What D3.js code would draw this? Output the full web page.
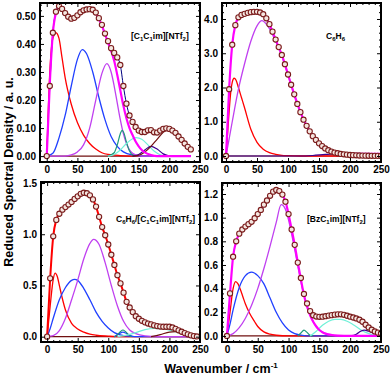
<!DOCTYPE html>
<html>
<head>
<meta charset="utf-8">
<script src="https://cdn.jsdelivr.net/npm/d3@7"></script>
<style>
  body { margin: 0; background: #fff; }
  text { font-family: "Liberation Sans", Arial, sans-serif; font-weight: bold; }
</style>
</head>
<body>
<script>
// measured spectra, one marker every 5 cm-1 starting at 0
var step = 5;
var dataP1 = [0, 0.25, 0.44, 0.515, 0.535, 0.525, 0.51, 0.497, 0.49, 0.493, 0.502, 0.513, 0.52, 0.523, 0.524, 0.522,
  0.512, 0.492, 0.468, 0.437, 0.41, 0.385, 0.368, 0.352, 0.325, 0.25, 0.187, 0.145, 0.122, 0.104, 0.091, 0.086,
  0.086, 0.092, 0.093, 0.085, 0.084, 0.091, 0.097, 0.099, 0.097, 0.091, 0.083, 0.07, 0.058, 0.045, 0.033, 0.024];
var dataP2 = [0, 1.95, 3.25, 3.82, 4.05, 4.12, 4.15, 4.18, 4.2, 4.21, 4.21, 4.19, 4.14, 4.02, 3.85, 3.63, 3.4, 3.18,
  2.95, 2.68, 2.38, 2.08, 1.8, 1.52, 1.28, 1.06, 0.88, 0.72, 0.58, 0.47, 0.37, 0.29, 0.22, 0.17, 0.13, 0.1, 0.08,
  0.06, 0.05, 0.04, 0.03, 0.025, 0.02, 0.015, 0.012, 0.01, 0.008, 0.006, 0.005, 0.004, 0.003];
var dataP3 = [0, 0.57, 0.98, 1.14, 1.2, 1.24, 1.265, 1.29, 1.315, 1.345, 1.37, 1.395, 1.405, 1.4, 1.38, 1.34, 1.27,
  1.17, 1.07, 0.99, 0.9, 0.8, 0.7, 0.6, 0.52, 0.43, 0.34, 0.285, 0.24, 0.2, 0.175, 0.155, 0.14, 0.128, 0.12, 0.11,
  0.103, 0.099, 0.097, 0.097, 0.097, 0.09, 0.077, 0.062, 0.048, 0.035, 0.023, 0.013, 0.006, 0.002];
var dataP4 = [0, 0.36, 0.67, 0.8, 0.865, 0.9, 0.925, 0.945, 0.965, 0.995, 1.03, 1.065, 1.11, 1.145, 1.185, 1.22,
  1.234, 1.225, 1.195, 1.135, 1.03, 0.9, 0.77, 0.62, 0.49, 0.355, 0.275, 0.21, 0.175, 0.164, 0.162, 0.163, 0.167,
  0.172, 0.176, 0.18, 0.183, 0.183, 0.179, 0.171, 0.163, 0.156, 0.148, 0.137, 0.12, 0.095, 0.072, 0.053, 0.038,
  0.028, 0.022];

// fitted curves, [wavenumber, density]
var fitP1 = [[0,0],[5,0.26],[10,0.44],[15,0.51],[20,0.53],[25,0.52],[30,0.505],[35,0.495],[40,0.49],[45,0.492],
  [50,0.5],[55,0.51],[60,0.518],[65,0.522],[70,0.523],[75,0.52],[80,0.51],[85,0.49],[90,0.465],[95,0.435],
  [100,0.405],[105,0.375],[110,0.34],[115,0.29],[120,0.235],[125,0.18],[130,0.135],[135,0.1],[140,0.075],
  [145,0.052],[150,0.035],[155,0.022],[160,0.013],[170,0.004],[180,0],[235,0]];
var redP1 = [[0,0],[5,0.3],[10,0.42],[15,0.44],[20,0.42],[25,0.35],[30,0.28],[40,0.185],[50,0.12],[60,0.075],
  [70,0.045],[80,0.025],[90,0.012],[100,0.006],[120,0.002],[150,0],[235,0]];
var blueP1 = [[0,0],[10,0.01],[20,0.065],[30,0.145],[40,0.25],[50,0.345],[58,0.38],[65,0.365],[75,0.3],[85,0.21],
  [95,0.13],[105,0.07],[115,0.035],[125,0.015],[140,0.004],[160,0],[235,0]];
var violetP1 = [[0,0],[30,0],[40,0.004],[50,0.015],[60,0.04],[70,0.1],[80,0.2],[90,0.295],[98,0.33],[105,0.3],
  [110,0.25],[115,0.19],[120,0.13],[125,0.08],[130,0.045],[140,0.01],[150,0.002],[160,0],[235,0]];
var tealP1 = [[100,0],[110,0.012],[115,0.04],[120,0.08],[123,0.092],[126,0.082],[130,0.05],[135,0.018],[140,0.004],[145,0]];
var cyanP1 = [[100,0],[110,0.006],[120,0.022],[130,0.045],[140,0.062],[146,0.066],[155,0.06],[165,0.04],[175,0.018],[185,0.005],[195,0]];
var purpleP1 = [[140,0],[150,0.006],[160,0.022],[170,0.035],[180,0.025],[190,0.008],[200,0]];
var brownP1 = [[140,0],[150,0.003],[160,0.015],[170,0.035],[180,0.06],[190,0.085],[200,0.095],[210,0.088],
  [220,0.065],[230,0.04],[235,0.03]];

var fitP2 = [[0,0],[5,1.95],[10,3.25],[15,3.82],[20,4.04],[25,4.12],[30,4.15],[35,4.18],[40,4.2],[45,4.21],
  [50,4.21],[55,4.19],[60,4.14],[65,4.02],[70,3.85],[75,3.63],[80,3.4],[90,2.95],[100,2.38],[110,1.8],[120,1.28],
  [130,0.88],[140,0.58],[150,0.37],[160,0.23],[170,0.15],[180,0.1],[190,0.075],[200,0.065],[220,0.06],[250,0.06]];
var redP2 = [[0,0],[3,0.8],[5,1.3],[8,1.93],[10,2.15],[13,2.27],[16,2.22],[20,2.0],[25,1.7],[30,1.4],[40,0.78],
  [50,0.4],[60,0.2],[70,0.1],[80,0.05],[90,0.02],[100,0.01],[120,0],[250,0]];
var violetP2 = [[0,0],[10,1.0],[20,1.95],[30,2.7],[40,3.35],[50,3.8],[58,3.95],[65,3.85],[70,3.72],[80,3.35],
  [90,2.93],[100,2.37],[110,1.79],[120,1.28],[130,0.88],[140,0.58],[150,0.37],[160,0.21],[170,0.11],[180,0.06],
  [190,0.03],[200,0.015],[220,0.003],[250,0]];
var navyP2 = [[0,0],[120,0],[140,0.015],[160,0.045],[175,0.06],[190,0.05],[210,0.02],[230,0.005],[250,0]];

var redP3 = [[0,0],[5,0.3],[10,0.56],[13,0.62],[17,0.58],[20,0.5],[25,0.37],[30,0.26],[40,0.13],[50,0.075],
  [60,0.045],[70,0.025],[80,0.014],[100,0.005],[120,0],[245,0]];
var blueP3 = [[0,0],[5,0.08],[10,0.18],[20,0.36],[30,0.48],[40,0.55],[45,0.56],[50,0.55],[60,0.47],[70,0.36],
  [80,0.24],[90,0.15],[100,0.085],[110,0.04],[120,0.018],[135,0.005],[150,0],[245,0]];
var blue2P3 = [[110,0],[118,0.03],[124,0.045],[130,0.03],[140,0]];
var violetP3 = [[0,0],[10,0.01],[20,0.06],[30,0.18],[40,0.36],[50,0.55],[60,0.76],[70,0.91],[76,0.95],[85,0.9],
  [95,0.72],[105,0.5],[115,0.3],[125,0.15],[135,0.065],[145,0.03],[160,0.008],[180,0],[245,0]];
var tealP3 = [[110,0],[115,0.02],[120,0.05],[124,0.065],[128,0.05],[133,0.02],[138,0]];
var cyanP3 = [[115,0],[130,0.015],[145,0.04],[160,0.068],[175,0.08],[190,0.075],[205,0.055],[220,0.03],[235,0.01],[245,0]];
var brownP3 = [[170,0],[185,0.02],[200,0.045],[210,0.05],[220,0.04],[235,0.015],[245,0.005]];

var fitP4 = [[0,0],[5,0.36],[10,0.67],[15,0.8],[20,0.865],[25,0.9],[30,0.925],[35,0.945],[40,0.965],[45,0.995],
  [50,1.03],[55,1.065],[60,1.11],[65,1.145],[70,1.185],[75,1.22],[80,1.234],[85,1.225],[90,1.195],[95,1.135],
  [100,1.03],[105,0.9],[110,0.77],[115,0.62],[120,0.48],[125,0.345],[130,0.25],[135,0.175],[140,0.12],[145,0.08],
  [150,0.05],[155,0.032],[160,0.02],[170,0.008],[180,0.003],[200,0],[250,0]];
var redP4 = [[0,0],[5,0.2],[10,0.4],[14,0.46],[18,0.44],[22,0.39],[26,0.33],[30,0.27],[37,0.19],[45,0.12],
  [50,0.08],[60,0.035],[70,0.015],[80,0.006],[100,0],[250,0]];
var blueP4 = [[0,0],[5,0.1],[10,0.22],[20,0.41],[30,0.51],[40,0.54],[50,0.51],[60,0.44],[70,0.32],[80,0.2],
  [90,0.11],[100,0.05],[110,0.02],[120,0.008],[135,0],[250,0]];
var violetP4 = [[0,0],[10,0.02],[20,0.07],[30,0.15],[40,0.26],[50,0.4],[60,0.57],[70,0.76],[80,0.96],[88,1.11],
  [95,1.07],[100,0.98],[105,0.86],[110,0.73],[120,0.46],[130,0.25],[140,0.12],[150,0.05],[160,0.02],[170,0.008],
  [180,0],[250,0]];
var tealP4 = [[115,0],[120,0.025],[125,0.05],[130,0.03],[135,0.005],[140,0]];
var cyanP4 = [[135,0],[145,0.04],[155,0.09],[165,0.125],[175,0.14],[185,0.14],[195,0.125],[205,0.095],[215,0.06],
  [225,0.03],[235,0.012],[250,0]];
var purpleP4 = [[200,0],[210,0.015],[217,0.04],[223,0.05],[230,0.04],[240,0.02],[250,0.008]];

// tick labels
var xTicks = [0, 50, 100, 150, 200, 250];
var yTicksP1 = [0, 0.1, 0.2, 0.3, 0.4, 0.5];
var yTicksP2 = [0, 1, 2, 3, 4];
var yTicksP3 = [0, 0.5, 1.0, 1.5];
var yTicksP4 = [0, 0.2, 0.4, 0.6, 0.8, 1.0, 1.2];

var C = {red: "#ff0000", blue: "#2040ff", violet: "#c040f0", teal: "#1a9a7a", cyan: "#70f0d8",
         purple: "#3a0090", brown: "#701010", magenta: "#ff00ff", navy: "#000080"};

function pts(arr) { return arr.map(function(v, i) { return [i * step, v]; }); }

var panels = [
  {box: [40, 3, 200, 162], xd: [-11, 250], yd: [-0.021, 0.546], yt: yTicksP1, ym: 0.02, fmt: ".1f",
   data: dataP1, label: [["[C",0],["1",1],["C",0],["1",1],["im][NTf",0],["2",1],["]",0]], lx: 131, ly: 39,
   lines: [[pts(dataP1), C.navy, 1], [redP1, C.red, 1.3], [blueP1, C.blue, 1.3], [violetP1, C.violet, 1.3],
           [tealP1, C.teal, 1.2], [cyanP1, C.cyan, 1.2], [purpleP1, C.purple, 1.2], [brownP1, C.brown, 1.2],
           [fitP1, C.magenta, 2.2]]},
  {box: [222, 3, 381, 162], xd: [-6.5, 250], yd: [-0.175, 4.467], yt: yTicksP2, ym: 0.2, fmt: "d",
   data: dataP2, label: [["C",0],["6",1],["H",0],["6",1]], lx: 326, ly: 39,
   lines: [[redP2, C.red, 1.3], [violetP2, C.violet, 1.3], [navyP2, C.purple, 1.2], [fitP2, C.magenta, 2.2]]},
  {box: [41, 182, 200, 342], xd: [-10, 250], yd: [-0.052, 1.51], yt: yTicksP3, ym: 0.1, fmt: ".1f",
   data: dataP3, label: [["C",0],["6",1],["H",0],["6",1],["/[C",0],["1",1],["C",0],["1",1],["im][NTf",0],["2",1],["]",0]],
   lx: 116, ly: 222,
   lines: [[redP3, C.red, 1.3], [blueP3, C.blue, 1.3], [blue2P3, C.blue, 1.2], [violetP3, C.violet, 1.3],
           [tealP3, C.teal, 1.2], [cyanP3, C.cyan, 1.2], [brownP3, C.brown, 1.2], [pts(dataP3), C.red, 2]]},
  {box: [222, 183, 381, 342], xd: [-8, 250], yd: [-0.051, 1.293], yt: yTicksP4, ym: 0.04, fmt: ".1f",
   data: dataP4, label: [["[BzC",0],["1",1],["im][NTf",0],["2",1],["]",0]], lx: 307, ly: 222,
   lines: [[redP4, C.red, 1.3], [blueP4, C.blue, 1.3], [violetP4, C.violet, 1.3], [tealP4, C.teal, 1.2],
           [cyanP4, C.cyan, 1.2], [purpleP4, C.purple, 1.2], [fitP4, C.magenta, 2.2]]}
];

var svg = d3.select("body").append("svg")
  .attr("width", 390).attr("height", 377);

panels.forEach(function(p, k) {
  var x = d3.scaleLinear().domain(p.xd).range([p.box[0], p.box[2]]);
  var y = d3.scaleLinear().domain(p.yd).range([p.box[3], p.box[1]]);
  var g = svg.append("g");

  g.append("clipPath").attr("id", "clip" + k)
    .append("rect").attr("x", p.box[0]).attr("y", p.box[1])
    .attr("width", p.box[2] - p.box[0]).attr("height", p.box[3] - p.box[1]);

  var plot = g.append("g").attr("clip-path", "url(#clip" + k + ")");
  var line = d3.line().x(function(d) { return x(d[0]); }).y(function(d) { return y(d[1]); })
    .curve(d3.curveMonotoneX);

  // zero line
  var last = (p.data.length - 1) * step;
  plot.append("path").attr("d", line([[0, 0], [last, 0]]))
    .attr("fill", "none").attr("stroke", C.brown).attr("stroke-width", 1.2);

  p.lines.forEach(function(l) {
    plot.append("path").attr("d", line(l[0]))
      .attr("fill", "none").attr("stroke", l[1]).attr("stroke-width", l[2])
      .attr("stroke-linejoin", "round");
  });

  plot.selectAll(".pt").data(pts(p.data)).enter().append("circle")
    .attr("cx", function(d) { return x(d[0]); })
    .attr("cy", function(d) { return y(d[1]); })
    .attr("r", 2.6)
    .attr("fill", "#f4e6e0").attr("stroke", "#7b1c1c").attr("stroke-width", 1.1);

  // axes, ticks inward on all four sides
  var xMinor = d3.range(0, 251, 10).filter(function(v) { return v % 50 !== 0; });
  var yMinor = d3.range(0, p.yd[1], p.ym).filter(function(v) {
    return !p.yt.some(function(t) { return Math.abs(t - v) < 1e-6; });
  });
  var fmt = d3.format(p.fmt);

  function ax(axis, tr, vals, size, labels) {
    var a = g.append("g").attr("transform", tr)
      .call(axis.tickValues(vals).tickSize(-size).tickPadding(4)
        .tickFormat(labels ? null : ""));
    a.select(".domain").remove();
    a.selectAll("line").attr("stroke", "#000").attr("stroke-width", 1);
    a.selectAll("text").attr("font-size", 10).attr("fill", "#000")
      .style("font-family", '"Liberation Sans", Arial, sans-serif').style("font-weight", "bold");
    return a;
  }
  ax(d3.axisBottom(x).tickFormat(d3.format("d")), "translate(0," + p.box[3] + ")", xTicks, 4, true);
  ax(d3.axisBottom(x), "translate(0," + p.box[3] + ")", xMinor, 2, false);
  ax(d3.axisTop(x), "translate(0," + p.box[1] + ")", xTicks, 4, false);
  ax(d3.axisTop(x), "translate(0," + p.box[1] + ")", xMinor, 2, false);
  ax(d3.axisLeft(y).tickFormat(fmt), "translate(" + p.box[0] + ",0)", p.yt, 4, true);
  ax(d3.axisLeft(y), "translate(" + p.box[0] + ",0)", yMinor, 2, false);
  ax(d3.axisRight(y), "translate(" + p.box[2] + ",0)", p.yt, 4, false);
  ax(d3.axisRight(y), "translate(" + p.box[2] + ",0)", yMinor, 2, false);

  g.append("rect").attr("x", p.box[0]).attr("y", p.box[1])
    .attr("width", p.box[2] - p.box[0]).attr("height", p.box[3] - p.box[1])
    .attr("fill", "none").attr("stroke", "#000").attr("stroke-width", 2);

  // sample name with subscripts
  var t = g.append("text").attr("x", p.lx).attr("y", p.ly).attr("font-size", 8.5).attr("fill", "#000");
  var down = false;
  p.label.forEach(function(s) {
    var ts = t.append("tspan").text(s[0]);
    if (s[1] && !down) { ts.attr("dy", 2).attr("font-size", 6); down = true; }
    else if (s[1]) { ts.attr("font-size", 6); }
    else if (down) { ts.attr("dy", -2); down = false; }
  });
});

svg.append("text").attr("transform", "translate(13,172) rotate(-90)")
  .attr("text-anchor", "middle").attr("font-size", 12.5).attr("fill", "#000")
  .text("Reduced Spectral Density / a. u.");

var xl = svg.append("text").attr("x", 221).attr("y", 373)
  .attr("text-anchor", "middle").attr("font-size", 12.5).attr("fill", "#000");
xl.append("tspan").text("Wavenumber / cm");
xl.append("tspan").attr("dy", -5).attr("font-size", 8).text("-1");
</script>
</body>
</html>
